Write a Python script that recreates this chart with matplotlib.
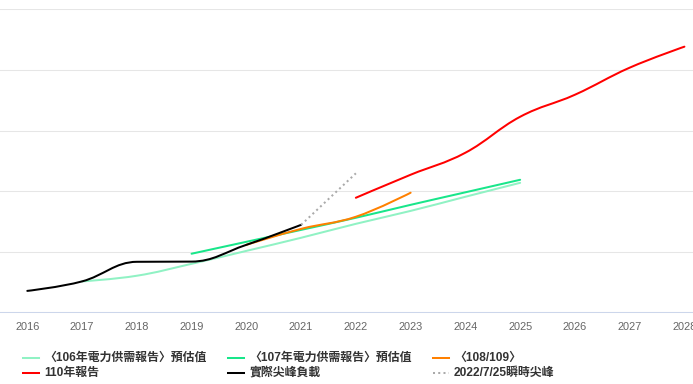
import matplotlib
matplotlib.use("Agg")
import matplotlib.pyplot as plt
from matplotlib.path import Path
from matplotlib.patches import PathPatch
from matplotlib.lines import Line2D

# ----------------------------- data (萬瓩) -----------------------------

years = list(range(2016, 2029))

forecast_106_years = [2017, 2018, 2019, 2020, 2021, 2022, 2023, 2024, 2025]
forecast_106 = [3553, 3581, 3640, 3704, 3769, 3838, 3902, 3972, 4041]

forecast_107_years = [2019, 2020, 2021, 2022, 2023, 2024, 2025]
forecast_107 = [3690, 3749, 3808, 3868, 3932, 3994, 4056]

forecast_108_years = [2020, 2021, 2022, 2023]
forecast_108 = [3734, 3813, 3873, 3992]

report_110_years = [2022, 2023, 2024, 2025, 2026, 2027, 2028]
report_110 = [3967, 4081, 4190, 4368, 4477, 4611, 4715]

actual_years = [2016, 2017, 2018, 2019, 2020, 2021]
actual_peak = [3506, 3553, 3650, 3651, 3734, 3833]

instant_years = [2021, 2022]
instant_peak = [3833, 4088]

labels = [
    "〈106年電力供需報告〉預估值",
    "〈107年電力供需報告〉預估值",
    "〈108/109〉",
    "110年報告",
    "實際尖峰負載",
    "2022/7/25瞬時尖峰",
]
colors = ["#90f2c4", "#18e68a", "#ff8000", "#ff0000", "#000000", "#aaaaaa"]


# ----------------------------- helpers -----------------------------

def spline_path(xs, ys, smoothing=1.5):
    """Cubic bezier path through the points, smoothed the way Highcharts 'spline' does."""
    n = len(xs)
    denom = smoothing + 1
    left = [(x, y) for x, y in zip(xs, ys)]
    right = [(x, y) for x, y in zip(xs, ys)]
    for i in range(1, n - 1):
        x, y = xs[i], ys[i]
        lx, ly = xs[i - 1], ys[i - 1]
        nx, ny = xs[i + 1], ys[i + 1]
        lcx = (smoothing * x + lx) / denom
        lcy = (smoothing * y + ly) / denom
        rcx = (smoothing * x + nx) / denom
        rcy = (smoothing * y + ny) / denom
        corr = 0.0
        if rcx != lcx:
            corr = (rcy - lcy) * (rcx - x) / (rcx - lcx) + y - rcy
        lcy += corr
        rcy += corr
        if lcy > ly and lcy > y:
            lcy = max(ly, y)
            rcy = 2 * y - lcy
        elif lcy < ly and lcy < y:
            lcy = min(ly, y)
            rcy = 2 * y - lcy
        if rcy > ny and rcy > y:
            rcy = max(ny, y)
            lcy = 2 * y - rcy
        elif rcy < ny and rcy < y:
            rcy = min(ny, y)
            lcy = 2 * y - rcy
        left[i] = (lcx, lcy)
        right[i] = (rcx, rcy)

    verts = [(xs[0], ys[0])]
    codes = [Path.MOVETO]
    for i in range(1, n):
        verts += [right[i - 1], left[i], (xs[i], ys[i])]
        codes += [Path.CURVE4] * 3
    return Path(verts, codes)


def add_spline(ax, xs, ys, color, lw=1.45):
    patch = PathPatch(spline_path(xs, ys), fill=False, edgecolor=color, lw=lw,
                      capstyle="round", joinstyle="round")
    ax.add_patch(patch)


# ----------------------------- figure -----------------------------

W, H = 693, 384
fig = plt.figure(figsize=(W / 100, H / 100), dpi=100)
ax = fig.add_axes([0, (H - 312.3) / H, 1, (312.3 - 9.3) / H])

x_left = 2016 - 27.3 / 54.76
ax.set_xlim(x_left, x_left + W / 54.76)
ax.set_ylim(3400, 4900)

ax.set_yticks(range(3400, 4901, 300))
ax.grid(axis="y", color="#e6e6e6", lw=0.75)
ax.set_axisbelow(True)
ax.tick_params(axis="y", left=False, labelleft=False)

ax.set_xticks(years)
ax.set_xticklabels([str(y) for y in years])
ax.tick_params(axis="x", length=0, pad=7, labelsize=7.9, labelcolor="#666666")
for lab in ax.get_xticklabels():
    lab.set_family(["Liberation Sans", "DejaVu Sans"])

for side in ["top", "left", "right"]:
    ax.spines[side].set_visible(False)
ax.spines["bottom"].set_color("#ccd6eb")
ax.spines["bottom"].set_linewidth(0.75)

add_spline(ax, forecast_106_years, forecast_106, colors[0])
add_spline(ax, forecast_107_years, forecast_107, colors[1])
add_spline(ax, forecast_108_years, forecast_108, colors[2])
add_spline(ax, report_110_years, report_110, colors[3])
add_spline(ax, actual_years, actual_peak, colors[4])
ax.plot(instant_years, instant_peak, color=colors[5], lw=1.45, linestyle=(0, (1, 1.6)))

# ----------------------------- legend (Highcharts-like, 2 rows x 3 cols) -----------------------------

col_x = [23, 228, 433]
row_y = [357.7, 372.7]
styles = ["-", "-", "-", "-", "-", (0, (1, 1.6))]
for i, (lab, col) in enumerate(zip(labels, colors)):
    cx = col_x[i % 3]
    cy = row_y[i // 3]
    fig.add_artist(Line2D([cx / W, (cx + 16) / W], [1 - cy / H, 1 - cy / H],
                          color=col, lw=1.45, linestyle=styles[i]))
    fig.text((cx + 21) / W, 1 - cy / H, lab, ha="left", va="center",
             fontsize=8.6, fontweight="bold", color="#333333",
             family=["Liberation Sans", "Noto Sans CJK TC", "DejaVu Sans"])

fig.savefig("out.png", dpi=100)
